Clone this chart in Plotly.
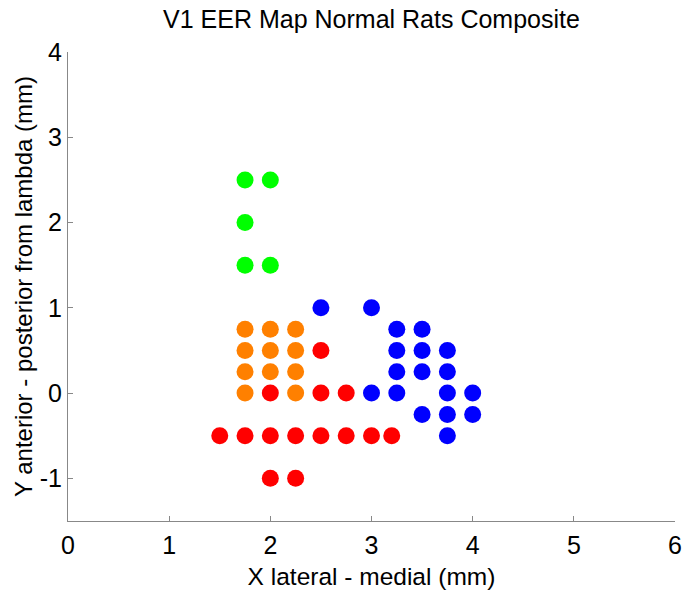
import plotly.graph_objects as go

# Data (mm)
green_x = [1.75, 2.0, 1.75, 1.75, 2.0]
green_y = [2.5, 2.5, 2.0, 1.5, 1.5]

orange_x = [1.75, 2.0, 2.25, 1.75, 2.0, 2.25, 1.75, 2.0, 2.25, 1.75, 2.25]
orange_y = [0.75, 0.75, 0.75, 0.5, 0.5, 0.5, 0.25, 0.25, 0.25, 0.0, 0.0]

red_x = [2.5, 2.0, 2.5, 2.75, 1.5, 1.75, 2.0, 2.25, 2.5, 2.75, 3.0, 3.2, 2.0, 2.25]
red_y = [0.5, 0.0, 0.0, 0.0, -0.5, -0.5, -0.5, -0.5, -0.5, -0.5, -0.5, -0.5, -1.0, -1.0]

blue_x = [2.5, 3.0, 3.25, 3.5, 3.25, 3.5, 3.75, 3.25, 3.5, 3.75,
          3.0, 3.25, 3.75, 4.0, 3.5, 3.75, 4.0, 3.75]
blue_y = [1.0, 1.0, 0.75, 0.75, 0.5, 0.5, 0.5, 0.25, 0.25, 0.25,
          0.0, 0.0, 0.0, 0.0, -0.25, -0.25, -0.25, -0.5]

x_ticks = [0, 1, 2, 3, 4, 5, 6]
x_tick_labels = ["0", "1", "2", "3", "4", "5", "6"]
y_ticks = [-1, 0, 1, 2, 3, 4]
y_tick_labels = ["-1", "0", "1", "2", "3", "4"]

fig = go.Figure()
for xs, ys, col in [(green_x, green_y, "#00FF00"), (orange_x, orange_y, "#FF8000"),
                    (red_x, red_y, "#FF0000"), (blue_x, blue_y, "#0000FF")]:
    fig.add_trace(go.Scatter(x=xs, y=ys, mode="markers",
                             marker=dict(color=col, size=17, line=dict(width=0)),
                             showlegend=False))

font = "Liberation Sans, Arial, Helvetica, sans-serif"
fig.update_layout(
    width=684, height=590,
    margin=dict(l=68, r=9, t=52, b=69),
    paper_bgcolor="white", plot_bgcolor="white",
    font=dict(family=font, color="black"),
    title=dict(text="V1 EER Map Normal Rats Composite", x=0.5, xref="paper", xanchor="center",
               y=0.967, yanchor="middle", font=dict(size=25, family=font, color="black")),
    xaxis=dict(range=[0, 6], tickvals=x_ticks, ticktext=x_tick_labels, ticks="inside", ticklen=5,
               tickcolor="#888888", showline=True, linecolor="#888888", linewidth=1,
               showgrid=False, zeroline=False, tickfont=dict(size=25), automargin=False,
               ticklabelstandoff=2,
               title=dict(text="X lateral - medial (mm)", font=dict(size=24.5), standoff=14)),
    yaxis=dict(range=[-1.5, 4], tickvals=y_ticks, ticktext=y_tick_labels, ticks="inside", ticklen=5,
               tickcolor="#888888", showline=True, linecolor="#888888", linewidth=1,
               showgrid=False, zeroline=False, tickfont=dict(size=25), automargin=False,
               title=dict(text="Y anterior - posterior from lambda (mm)", font=dict(size=24), standoff=0)),
)

fig.write_html("out.html", config={"displayModeBar": False},
               post_script="document.body.style.margin='0px';document.body.style.overflow='hidden';")
